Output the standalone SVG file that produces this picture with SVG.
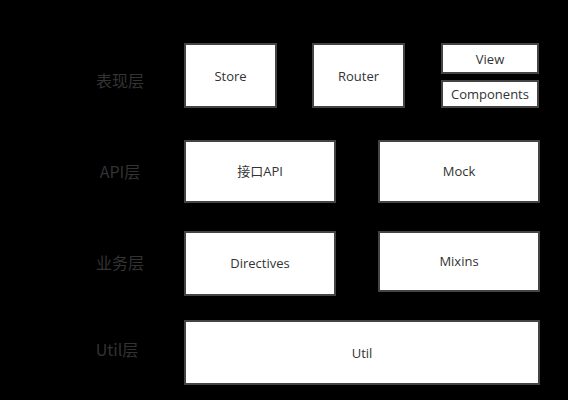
<svg xmlns="http://www.w3.org/2000/svg" width="568" height="400" viewBox="0 0 568 400">
<style>
.box{fill:#fff;stroke:#444;stroke-width:2}
.t{font-family:"Open Sans","Noto Sans CJK SC",sans-serif;font-size:13px;fill:#333;text-anchor:middle;dominant-baseline:central}
.l{font-family:"Noto Sans CJK SC","Open Sans",sans-serif;font-size:16px;fill:#333;text-anchor:middle;dominant-baseline:central}
</style>
<rect width="568" height="400" fill="#000"/>
<g id="labels">
<text class="l" x="120" y="80">表现层</text>
<text class="l" x="120" y="171">API层</text>
<text class="l" x="120" y="262">业务层</text>
<text class="l" x="117" y="349">Util层</text>
</g>
<g id="store"><rect class="box" x="185" y="44" width="91" height="63"/><text class="t" x="230.5" y="76">Store</text></g>
<g id="router"><rect class="box" x="313" y="44" width="91" height="63"/><text class="t" x="358.5" y="76">Router</text></g>
<g id="view"><rect class="box" x="442" y="44" width="96" height="29"/><text class="t" x="490" y="58.5">View</text></g>
<g id="components"><rect class="box" x="442" y="81" width="96" height="26"/><text class="t" x="490" y="94">Components</text></g>
<g id="api"><rect class="box" x="185" y="141" width="150" height="61"/><text class="t" x="260" y="171">接口API</text></g>
<g id="mock"><rect class="box" x="379" y="141" width="160" height="61"/><text class="t" x="459" y="171">Mock</text></g>
<g id="directives"><rect class="box" x="185" y="232" width="150" height="63"/><text class="t" x="260" y="263">Directives</text></g>
<g id="mixins"><rect class="box" x="379" y="232" width="160" height="59"/><text class="t" x="459" y="261">Mixins</text></g>
<g id="util"><rect class="box" x="185" y="321" width="354" height="63"/><text class="t" x="362" y="353">Util</text></g>
<g id="connectors"></g>
</svg>
